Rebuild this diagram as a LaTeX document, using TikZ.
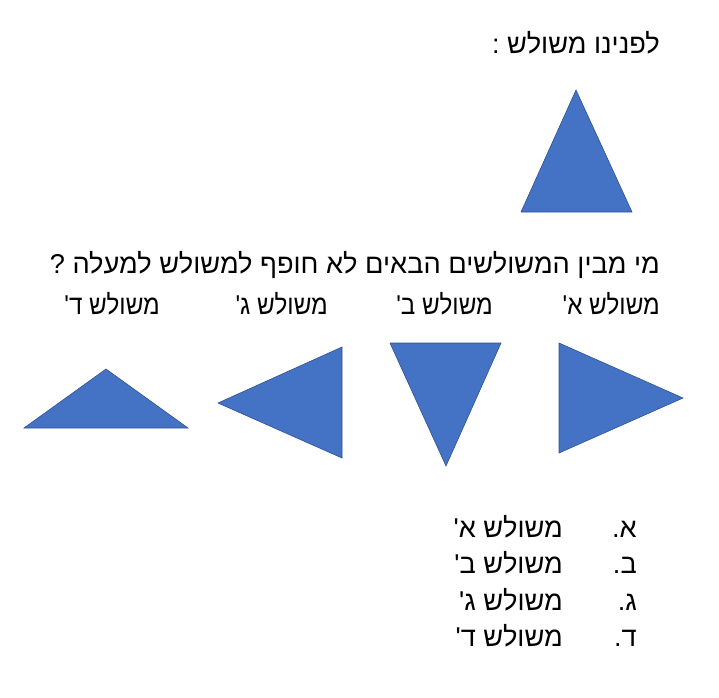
\documentclass[tikz,border=0pt]{standalone}
\usepackage{fontspec}
\usepackage{tikz}
\TeXXeTstate=1
\newfontfamily\hebfont[Script=Hebrew]{Liberation Sans}
\newfontfamily\hebnarrow[Script=Hebrew,FakeStretch=0.89]{Liberation Sans}
\newcommand{\rtl}[1]{\beginR #1\endR}
\definecolor{triblue}{HTML}{4472C4}
\definecolor{triedge}{HTML}{2F528F}

\begin{document}
\begin{tikzpicture}[x=1pt,y=-1pt,
    tri/.style={fill=triblue,draw=triedge,line width=0.6pt,line join=miter},
    heb/.style={anchor=base east,inner sep=0pt,font=\hebfont\fontsize{27.2}{32}\selectfont},
    lbl/.style={anchor=base east,inner sep=0pt,font=\hebnarrow\fontsize{27.2}{32}\selectfont}]
        \useasboundingbox (0,0) rectangle (719,697);
        % Header and the given triangle
        \node[heb] (head) at (660,53) {\rtl{לפנינו משולש :}};
        \draw[tri] (576,90) -- (632,212) -- (521,212) -- cycle;
        % Question
        \node[heb] (quest) at (660,273) {\rtl{מי מבין המשולשים הבאים לא חופף למשולש למעלה ?}};
        % Labels
        \node[lbl] (lblA) at (660,314) {\rtl{משולש א'}};
        \node[lbl] (lblB) at (493,314) {\rtl{משולש ב'}};
        \node[lbl] (lblC) at (328,314) {\rtl{משולש ג'}};
        \node[lbl] (lblD) at (160,314) {\rtl{משולש ד'}};
        % Triangles
        \draw[tri] (559,343) -- (683,398) -- (559,453) -- cycle;
        \draw[tri] (390,343) -- (501,343) -- (446,466) -- cycle;
        \draw[tri] (342,347) -- (342,458) -- (218,403) -- cycle;
        \draw[tri] (24,428) -- (106,369) -- (188,428) -- cycle;
        % Answers
        \foreach \ltr [count=\i] in {א,ב,ג,ד} {
            \node[heb] (num\i) at (637,500.5+36.5*\i) {\rtl{\ltr.}};
            \node[heb] (ans\i) at (563,500.5+36.5*\i) {\rtl{משולש \ltr'}};
        }
    \end{tikzpicture}
\end{document}
